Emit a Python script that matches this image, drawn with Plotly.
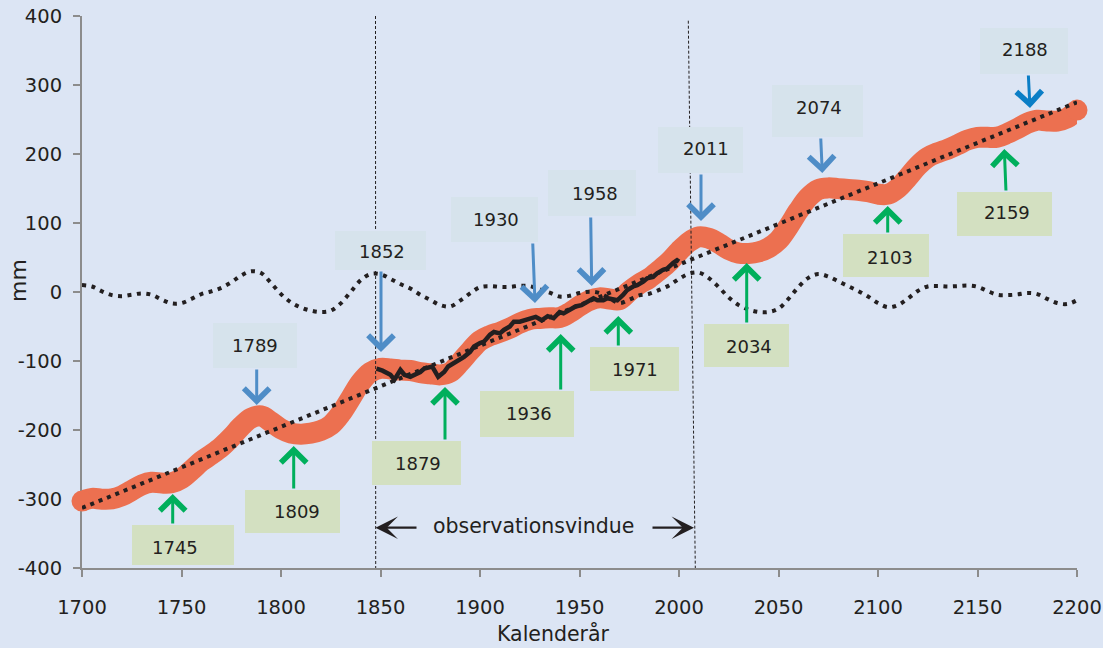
import plotly.graph_objects as go

# ---------------- data ----------------
years = list(range(1700, 2201, 5))

# cyclic component (dotted curve around 0), mm
osc_vals = [10, 8, 1, -4.5, -6, -4, -2, -4, -11, -16.5,
            -16, -10, -3, 1, 6, 14, 24, 30, 27.5, 13,
            -3, -15, -22.5, -27, -29, -27, -16.5, 0, 17, 26,
            25.7, 19, 11.5, 5, -4, -11.5, -19, -21, -12.5, -2,
            7, 8.5, 7.5, 7.5, 9, 8.5, 4, -1, -6.5, -5.5,
            -1.5, 0.5, -1.5, -9, -16, -11, -5, -2.5, 3, 9.5,
            19, 26.5, 28, 20, 7, -8, -19, -25.5, -29, -29,
            -24, -10, 7, 20.5, 26, 22.5, 15.5, 8.5, 1.5, -6.5,
            -16, -22, -19, -9.5, 1.5, 8, 8.7, 8, 8.5, 9.5,
            7.5, 1.5, -4, -4.5, -3.5, -1.5, -3, -10, -16, -17.5,
            -12]

# modelled sea level (thick red curve), mm
red_vals = [-303, -299.1, -300.2, -299.8, -295.5, -287.6, -279.7, -275.8, -276.9, -276.5,
            -270.2, -258.3, -245.4, -235.5, -224.6, -210.7, -194.8, -182.9, -179.6, -188.2,
            -198.3, -204.4, -206, -204.6, -200.8, -192.9, -176.5, -154.1, -131.2, -116.3,
            -110.8, -111.6, -113.2, -113.8, -116.9, -118.5, -120.1, -116.3, -101.9, -85.5,
            -70.6, -63.2, -58.3, -52.4, -45, -39.7, -38.3, -37.4, -37, -30.1,
            -20.3, -12.4, -8.5, -10.1, -11.2, 1, 11.6, 19.9, 31.3, 43.7,
            59.1, 72.5, 79.9, 77.8, 70.6, 61.5, 56.4, 55.8, 58.2, 64.1,
            75, 94.8, 117.7, 137.1, 148.5, 150.9, 149.8, 148.6, 147.5, 145.4,
            141.8, 141.7, 150.6, 166, 182.9, 195.2, 201.8, 207, 213.4, 220.3,
            224.2, 224.1, 224.4, 229.8, 236.7, 244.6, 249, 247.9, 247.8, 252.2,
            263.6]

# linear trend (dotted straight line)
trend_years = [1700, 2200]
trend_vals = [-313, 275]

# observed sea level (black)
obs_years = [1848, 1851, 1855, 1857, 1860, 1862, 1865, 1867, 1870, 1872,
             1876, 1879, 1882, 1884, 1887, 1889, 1892, 1895, 1897, 1900,
             1902, 1905, 1907, 1910, 1912, 1915, 1917, 1920, 1922, 1925,
             1928, 1931, 1934, 1937, 1940, 1942, 1945, 1948, 1951, 1954,
             1957, 1959, 1962, 1964, 1967, 1969, 1972, 1974, 1977, 1979,
             1982, 1984, 1987, 1989, 1992, 1994, 1997, 1999, 2000]
obs_vals = [-111, -114, -120, -127, -113, -120, -123, -120, -116, -111,
            -108, -123, -116, -108, -103, -99, -94, -87, -79, -74,
            -72, -62, -58, -60, -55, -50, -43, -43, -41, -38,
            -36, -41, -35, -38, -29, -31, -26, -21, -19, -14,
            -9, -12, -12, -9, -10, -12, -4, 3, 8, 10,
            15, 20, 22, 27, 32, 34, 42, 46, 44]

x_ticks = [1700, 1750, 1800, 1850, 1900, 1950, 2000, 2050, 2100, 2150, 2200]
y_ticks = [-400, -300, -200, -100, 0, 100, 200, 300, 400]
y_ticktext = ["-400", "-300", "-200", "-100", "0", "100", "200", "300", "400"]

peak_labels = ["1789", "1852", "1930", "1958", "2011", "2074", "2188"]
trough_labels = ["1745", "1809", "1879", "1936", "1971", "2034", "2103", "2159"]

# ---------------- layout geometry (pixels) ----------------
W, H = 1103, 648
ML, MR, MT, MB = 82, 26, 16, 80
XR = [1700, 2200]
YR = [-400, 400]
PW = W - ML - MR
PH = H - MT - MB


def dx(px):
    return XR[0] + (px - ML) * (XR[1] - XR[0]) / PW


def dy(py):
    return YR[1] - (py - MT) * (YR[1] - YR[0]) / PH


def paper_x(px):
    return (px - ML) / PW


def paper_y(py):
    return (MT + PH - py) / PH


# box [x0,x1,y0,y1], text centre, arrow tail, arrow tip (pixels)
peak_geom = [
    ([213, 297, 323, 368], (255, 345), (256.7, 368), (256.7, 405)),
    ([335, 426, 231, 270], (382, 251), (381, 270), (381, 352)),
    ([451, 538, 197, 242], (496, 219), (532.7, 242), (535, 303)),
    ([548, 636, 170, 216], (595, 193), (590.7, 216), (591.7, 286)),
    ([658, 743, 127, 173], (706, 148), (701, 173), (701, 221)),
    ([772, 863, 85, 137], (819, 107), (820.7, 137), (822.3, 173)),
    ([980, 1068, 28, 74], (1025, 49), (1028.3, 74), (1030, 108)),
]
trough_geom = [
    ([132, 234, 525, 565], (175, 547), (172.7, 525), (172.7, 494)),
    ([245, 340, 490, 533], (297, 511), (293.7, 490), (293.7, 446)),
    ([372, 461, 441, 485], (418, 463), (445, 441), (445, 387)),
    ([480, 574, 391, 437], (529, 413), (560.7, 391), (560.7, 334)),
    ([590, 679, 347, 391], (635, 369), (618.3, 347), (618.3, 316)),
    ([704, 789, 324, 367], (749, 346), (746.7, 324), (746.7, 263)),
    ([843, 929, 234, 277], (890, 257), (887.7, 234), (887.7, 206)),
    ([957, 1052, 192, 236], (1007, 212), (1006, 192), (1004.3, 149)),
]

BG = "#DCE5F4"
RED = "#EC7050"
BLUE = "#4F8DC7"
BLUE2 = "#0B7EC6"
GREEN = "#00AF5C"
PEAKBOX = "#D6E3EC"
TROUGHBOX = "#D3E0C1"
INK = "#231F20"
AXIS = "#8C8C8C"
FONT = "DejaVu Sans"

fig = go.Figure()

fig.add_trace(go.Scatter(x=years, y=red_vals, mode="lines",
                         line=dict(color=RED, width=21, shape="spline"),
                         hoverinfo="skip"))
fig.add_trace(go.Scatter(x=[years[0], years[-1]], y=[red_vals[0], red_vals[-1]],
                         mode="markers", marker=dict(color=RED, size=21),
                         cliponaxis=False, hoverinfo="skip"))
fig.add_trace(go.Scatter(x=years, y=osc_vals, mode="lines",
                         line=dict(color=INK, width=4, shape="spline", dash="4px,5.5px"),
                         hoverinfo="skip"))
fig.add_trace(go.Scatter(x=trend_years, y=trend_vals, mode="lines",
                         line=dict(color=INK, width=4, dash="4px,5px"),
                         hoverinfo="skip"))
fig.add_trace(go.Scatter(x=obs_years, y=obs_vals, mode="lines",
                         line=dict(color=INK, width=4.5),
                         hoverinfo="skip"))

shapes = []
# observation window boundaries
shapes.append(dict(type="line", xref="x", yref="y", x0=dx(375.5), x1=dx(375.7),
                   y0=dy(16), y1=dy(568), line=dict(color=INK, width=1, dash="3px,2px"),
                   layer="above"))
shapes.append(dict(type="line", xref="x", yref="y", x0=dx(688.3), x1=dx(695.3),
                   y0=dy(20.7), y1=dy(568), line=dict(color=INK, width=1, dash="3px,2px"),
                   layer="above"))

annotations = []


def add_label(text, geom, boxcol, arrowcol):
    b, t, tail, tip = geom
    shapes.append(dict(type="rect", xref="x", yref="y", x0=dx(b[0]), x1=dx(b[1]),
                       y0=dy(b[3]), y1=dy(b[2]), fillcolor=boxcol,
                       line=dict(width=0), layer="above"))
    annotations.append(dict(x=dx(t[0]), y=dy(t[1]), xref="x", yref="y", text=text,
                            xanchor="center", yanchor="middle",
                            showarrow=False, font=dict(family=FONT, size=18, color=INK)))
    annotations.append(dict(x=dx(tip[0]), y=dy(tip[1]), ax=dx(tail[0]), ay=dy(tail[1]),
                            xref="x", yref="y", axref="x", ayref="y", text="",
                            showarrow=True, arrowhead=4, arrowwidth=3, arrowsize=1.65,
                            arrowcolor=arrowcol, standoff=0, startstandoff=0))


for lab, g in zip(peak_labels, peak_geom):
    add_label(lab, g, PEAKBOX, BLUE2 if lab == "2188" else BLUE)
for lab, g in zip(trough_labels, trough_geom):
    add_label(lab, g, TROUGHBOX, GREEN)

# observation window text and arrows
annotations.append(dict(x=dx(533), y=dy(526), xref="x", yref="y", text="observationsvindue",
                        xanchor="center", yanchor="middle",
                        showarrow=False, font=dict(family=FONT, size=20.5, color=INK)))
annotations.append(dict(x=dx(375.5), y=dy(527.7), ax=dx(418), ay=dy(527.7),
                        xref="x", yref="y", axref="x", ayref="y", text="",
                        showarrow=True, arrowhead=3, arrowwidth=2.2, arrowsize=1.7,
                        arrowcolor=INK, standoff=0))
annotations.append(dict(x=dx(694), y=dy(527.7), ax=dx(651), ay=dy(527.7),
                        xref="x", yref="y", axref="x", ayref="y", text="",
                        showarrow=True, arrowhead=3, arrowwidth=2.2, arrowsize=1.7,
                        arrowcolor=INK, standoff=0))

# axis titles (paper coordinates so they are drawn outside the plot area)
annotations.append(dict(x=paper_x(553), y=paper_y(633), xref="paper", yref="paper",
                        xanchor="center", yanchor="middle",
                        text="Kalenderår", showarrow=False,
                        font=dict(family=FONT, size=20.5, color=INK)))
annotations.append(dict(x=paper_x(18), y=paper_y(281), xref="paper", yref="paper",
                        xanchor="center", yanchor="middle",
                        text="mm", textangle=-90, showarrow=False,
                        font=dict(family=FONT, size=22, color=INK)))

fig.update_layout(
    width=W, height=H,
    margin=dict(l=ML, r=MR, t=MT, b=MB, autoexpand=False),
    paper_bgcolor=BG, plot_bgcolor=BG,
    showlegend=False,
    shapes=shapes, annotations=annotations,
    font=dict(family=FONT, color=INK),
    xaxis=dict(range=XR, tickvals=x_ticks, ticktext=[str(v) for v in x_ticks],
               showgrid=False, zeroline=False, showline=True, linecolor=AXIS, linewidth=2,
               ticks="outside", ticklen=7, tickwidth=2, tickcolor=AXIS,
               tickfont=dict(family=FONT, size=19.5, color=INK), automargin=False,
               ticklabelstandoff=14, layer="below traces"),
    yaxis=dict(range=YR, tickvals=y_ticks, ticktext=y_ticktext,
               showgrid=False, zeroline=False, showline=True, linecolor=AXIS, linewidth=2,
               ticks="outside", ticklen=7, tickwidth=2, tickcolor=AXIS,
               tickfont=dict(family=FONT, size=19.5, color=INK), automargin=False,
               ticklabelstandoff=7, layer="below traces"),
)

fig.write_html("out.html", config={"displayModeBar": False},
               post_script="document.body.style.margin='0';document.body.style.background='" + BG + "';")
